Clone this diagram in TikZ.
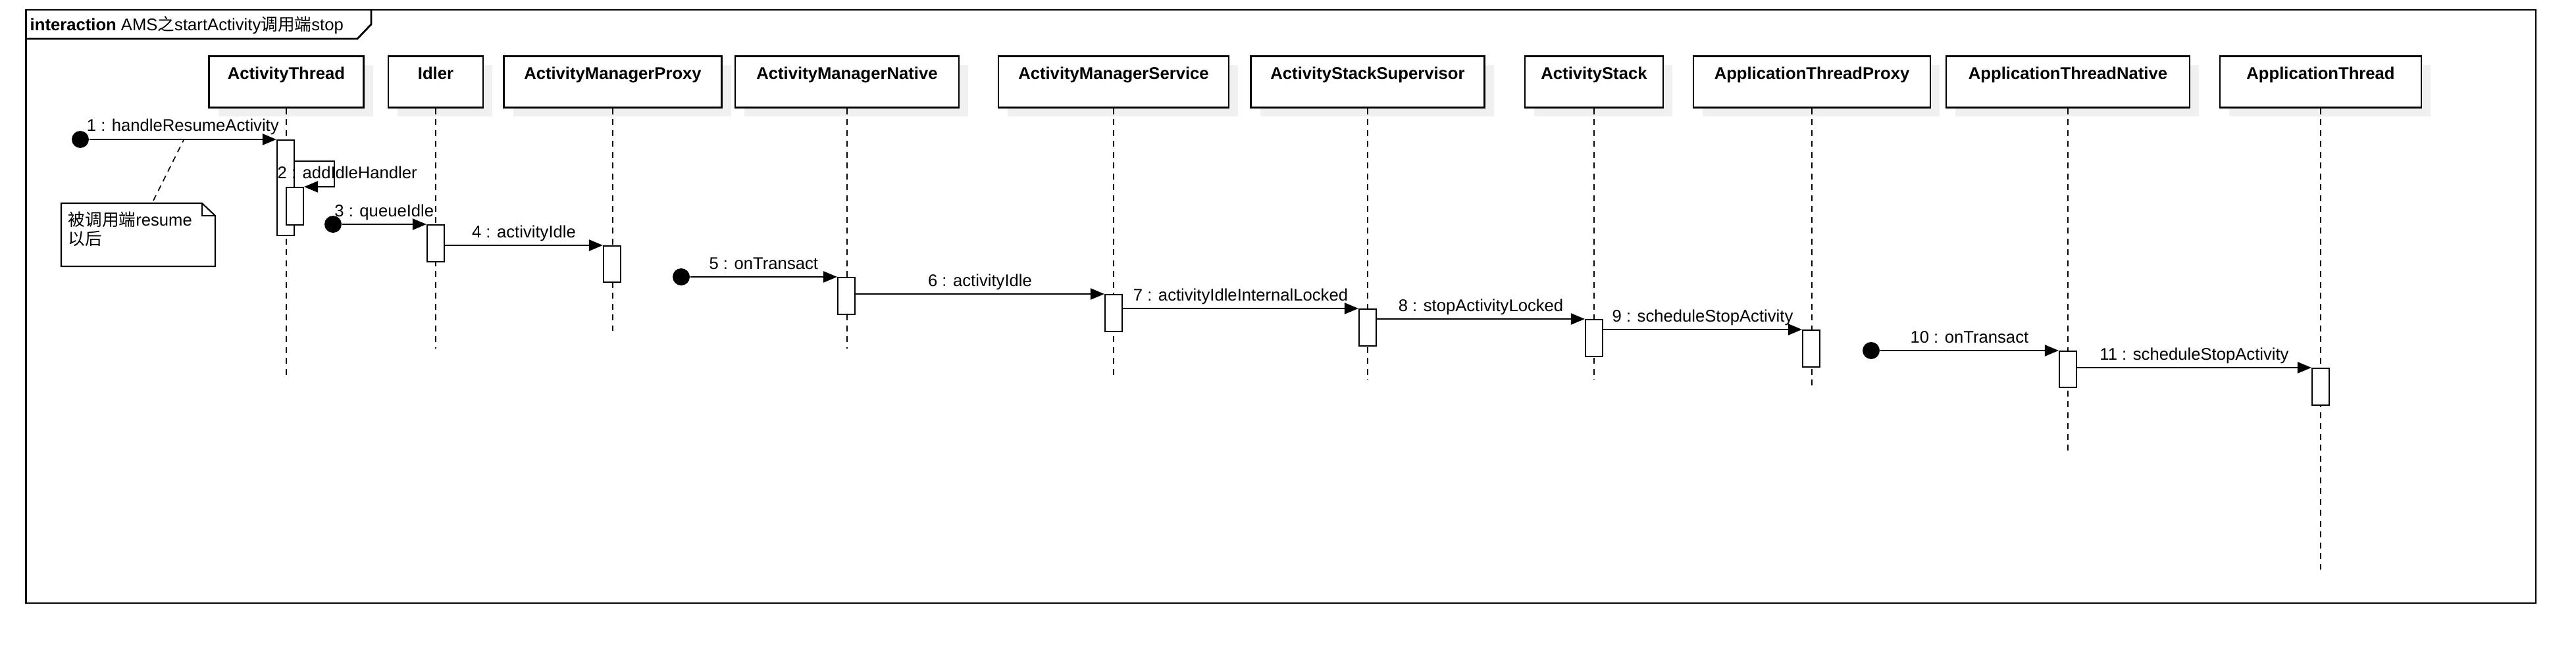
\documentclass[tikz,border=0pt]{standalone}
\usepackage{fontspec}
\setmainfont{Liberation Sans}
\newfontfamily\cjk{Noto Sans CJK SC}
\usetikzlibrary{arrows.meta, positioning, shadows}

\begin{document}
\begin{tikzpicture}[y=-1cm,
    every node/.style={font=\fontsize{7.3}{8.2}\selectfont},
    headbox/.style={draw, fill=white, line width=0.8pt, anchor=north, inner sep=0pt,
      text height=3.5mm, text depth=4.3mm, font=\fontsize{7.3}{8.2}\selectfont\bfseries,
      general shadow={fill=black!6, shadow xshift=1.4mm, shadow yshift=-1.4mm}},
    act/.style={draw, fill=white, line width=0.6pt, anchor=north, minimum width=2.6mm, inner sep=0pt},
    life/.style={dash pattern=on 0.9mm off 0.75mm, line width=0.45pt},
    msg/.style={line width=0.65pt, -{Triangle[length=2.1mm, width=1.7mm]}},
    lbl/.style={midway, anchor=base, yshift=1.2mm},
    founddot/.style={circle, fill, inner sep=0pt, minimum size=2.6mm}]
  \useasboundingbox (0,0) rectangle (39.14,10.02);

  % frame
  \draw[line width=0.8pt] (0.395,0.15) rectangle (38.53,9.17);
  \draw[line width=0.8pt] (0.395,0.59) -- (5.43,0.59) -- (5.64,0.37) -- (5.64,0.15);
  \node[anchor=base west, inner sep=0pt] (title) at (0.45,0.465) {\textbf{interaction} AMS{\cjk 之}startActivity{\cjk 调用端}stop};

  % lifelines
  \node[headbox, minimum width=2.35cm] (thread) at (4.35,0.84) {ActivityThread};
  \node[headbox, minimum width=1.44cm] (idler) at (6.62,0.84) {Idler};
  \node[headbox, minimum width=3.31cm] (amp) at (9.31,0.84) {ActivityManagerProxy};
  \node[headbox, minimum width=3.40cm] (amn) at (12.87,0.84) {ActivityManagerNative};
  \node[headbox, minimum width=3.50cm] (ams) at (16.92,0.84) {ActivityManagerService};
  \node[headbox, minimum width=3.55cm] (ass) at (20.78,0.84) {ActivityStackSupervisor};
  \node[headbox, minimum width=2.10cm] (as) at (24.22,0.84) {ActivityStack};
  \node[headbox, minimum width=3.60cm] (atp) at (27.53,0.84) {ApplicationThreadProxy};
  \node[headbox, minimum width=3.70cm] (atn) at (31.42,0.84) {ApplicationThreadNative};
  \node[headbox, minimum width=3.06cm] (app) at (35.26,0.84) {ApplicationThread};

  \draw[life] (thread.south) -- (thread.south |- 0,5.77);
  \draw[life] (idler.south) -- (idler.south |- 0,5.30);
  \draw[life] (amp.south) -- (amp.south |- 0,5.03);
  \draw[life] (amn.south) -- (amn.south |- 0,5.30);
  \draw[life] (ams.south) -- (ams.south |- 0,5.77);
  \draw[life] (ass.south) -- (ass.south |- 0,5.78);
  \draw[life] (as.south) -- (as.south |- 0,5.78);
  \draw[life] (atp.south) -- (atp.south |- 0,5.90);
  \draw[life] (atn.south) -- (atn.south |- 0,6.86);
  \draw[life] (app.south) -- (app.south |- 0,8.66);

  % activations
  \node[act, minimum height=1.45cm] (a1) at (4.34,2.12) {};
  \node[act, minimum height=0.57cm] (a2) at (4.48,2.84) {};
  \node[act, minimum height=0.56cm] (a3) at (6.62,3.41) {};
  \node[act, minimum height=0.55cm] (a4) at (9.30,3.73) {};
  \node[act, minimum height=0.56cm] (a5) at (12.86,4.21) {};
  \node[act, minimum height=0.56cm] (a6) at (16.92,4.47) {};
  \node[act, minimum height=0.56cm] (a7) at (20.78,4.69) {};
  \node[act, minimum height=0.56cm] (a8) at (24.22,4.85) {};
  \node[act, minimum height=0.56cm] (a9) at (27.52,5.01) {};
  \node[act, minimum height=0.55cm] (a10) at (31.42,5.33) {};
  \node[act, minimum height=0.56cm] (a11) at (35.26,5.59) {};

  \node[founddot] (s1) at (1.22,2.12) {};
  \node[founddot] (s3) at (5.06,3.41) {};
  \node[founddot] (s5) at (10.35,4.21) {};
  \node[founddot] (s10) at (28.43,5.33) {};

  % messages
  \draw[msg] (s1) -- (a1.north west) node[lbl] {1 : handleResumeActivity};
  \draw[msg] ([yshift=-3.3mm]a1.north east) -- ++(0.6,0) |- (a2.north east);
  \node[anchor=base west, inner sep=0pt] (l2) at (4.21,2.72) {2 : addIdleHandler};
  \draw[msg] (s3) -- (a3.north west) node[lbl] {3 : queueIdle};
  \draw[msg] (a3.east |- a4.north west) -- (a4.north west) node[lbl] {4 : activityIdle};
  \draw[msg] (s5) -- (a5.north west) node[lbl] {5 : onTransact};
  \draw[msg] (a5.east |- a6.north west) -- (a6.north west) node[lbl] {6 : activityIdle};
  \draw[msg] (a6.east |- a7.north west) -- (a7.north west) node[lbl] {7 : activityIdleInternalLocked};
  \draw[msg] (a7.east |- a8.north west) -- (a8.north west) node[lbl] {8 : stopActivityLocked};
  \draw[msg] (a8.east |- a9.north west) -- (a9.north west) node[lbl] {9 : scheduleStopActivity};
  \draw[msg] (s10) -- (a10.north west) node[lbl] {10 : onTransact};
  \draw[msg] (a10.east |- a11.north west) -- (a11.north west) node[lbl] {11 : scheduleStopActivity};

  % note
  \draw[line width=0.6pt] (0.93,3.09) -- (3.07,3.09) -- (3.27,3.28) -- (3.27,4.05) -- (0.93,4.05) -- cycle;
  \draw[line width=0.6pt] (3.07,3.09) -- (3.07,3.28) -- (3.27,3.28);
  \node[anchor=north west, align=left, inner sep=0pt] (note) at (1.03,3.215) {{\cjk 被调用端}resume\\{\cjk 以后}};
  \coordinate (n1) at (2.33,3.05);
  \coordinate (n2) at (2.79,2.13);
  \draw[life] (n1) -- (n2);
\end{tikzpicture}
\end{document}
